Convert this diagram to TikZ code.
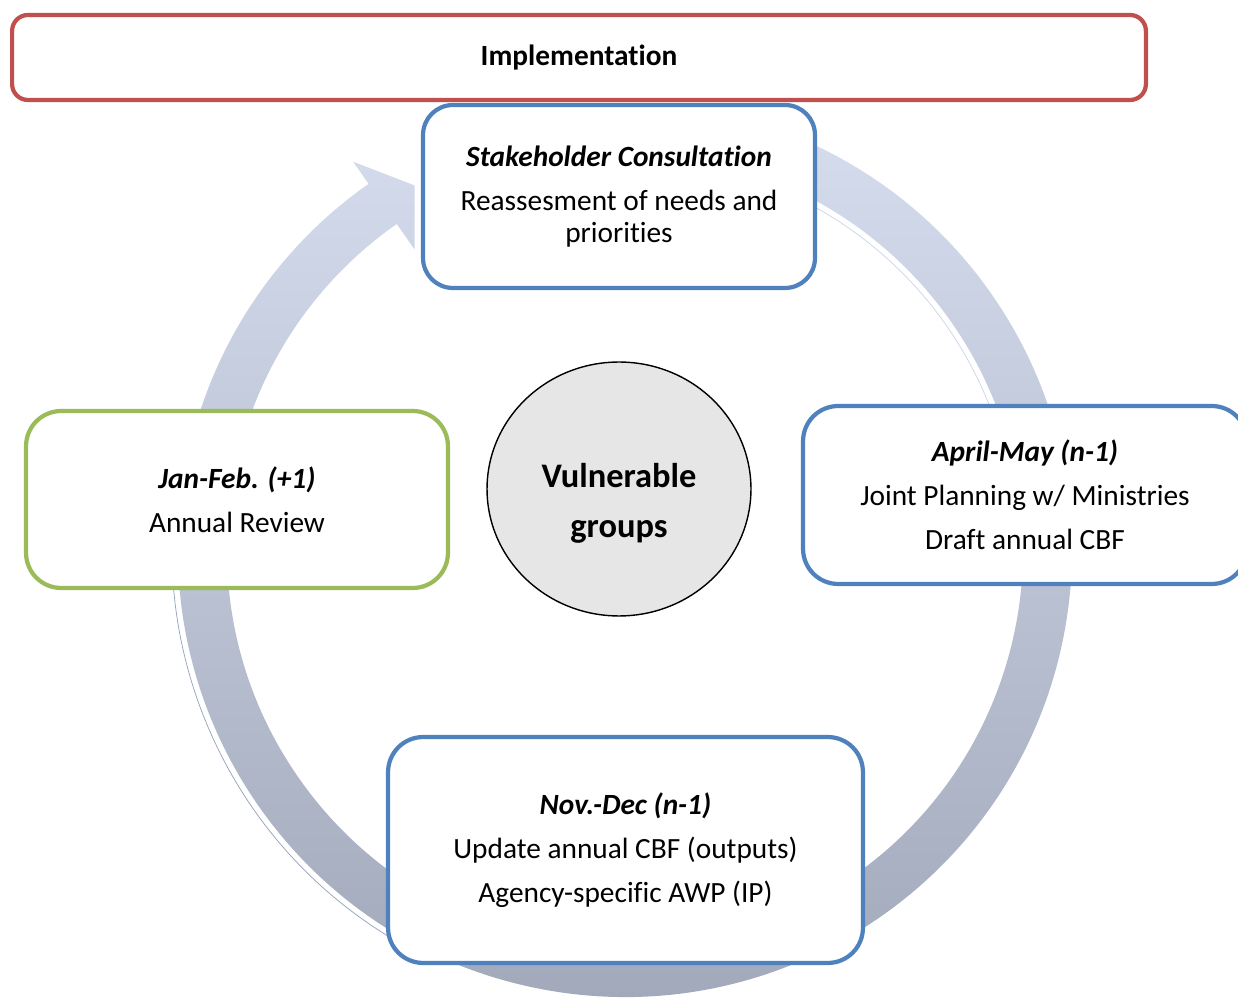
\documentclass[tikz,border=0pt]{standalone}
\usepackage{fontspec}
\setmainfont{Carlito}[Ligatures=NoCommon]
\usetikzlibrary{shapes.geometric}

\definecolor{planblue}{RGB}{79,129,189}
\definecolor{planred}{RGB}{192,80,77}
\definecolor{plangreen}{RGB}{155,187,89}
\definecolor{arctop}{RGB}{214,221,238}
\definecolor{arcbot}{RGB}{160,167,185}
\definecolor{hubgray}{RGB}{230,230,230}

\tikzset{
  phase/.style={draw=planblue, line width=2.4pt, fill=white, rounded corners=20pt,
    align=center, font=\fontsize{16.7}{25}\selectfont},
  hub/.style={ellipse, draw=black, line width=0.8pt, fill=hubgray},
  hubtext/.style={align=center, font=\bfseries\fontsize{19.6}{28.5}\selectfont}
}

\begin{document}
\begin{tikzpicture}[x=0.02cm, y=-0.02cm]
    \useasboundingbox (0,0) rectangle (1238,999);

    % cycle arrow behind the boxes
    \begin{scope}[shift={(625,550)}]
        \shade[top color=arctop, bottom color=arcbot]
            (-80:447) arc[start angle=-80, end angle=235, radius=447]
            -- (235:474) -- (240:421) -- (235:367) -- (235:398)
            arc[start angle=235, end angle=-80, radius=398] -- cycle;
        \draw[arctop!90!planblue, line width=0.4pt]
            (-80:392) arc[start angle=-80, end angle=-15, radius=392];
        \draw[arcbot!80!planblue, line width=0.4pt]
            (115:453) arc[start angle=115, end angle=190, radius=453];
    \end{scope}

    \node[phase, draw=planred, rounded corners=9pt, minimum width=22.68cm, minimum height=1.7cm] (impl) at (579,57.5) {\textbf{Implementation}};
    \node[phase, rounded corners=17pt, minimum width=7.84cm, minimum height=3.66cm] (stake) at (619,196.5)
        {\textbf{\textit{Stakeholder Consultation}}\\Reassesment of needs and\\[-7pt]priorities};
    \node[phase, minimum width=8.88cm, minimum height=3.56cm] (april) at (1025,495)
        {\textbf{\textit{April-May (n-1)}}\\Joint Planning w/ Ministries\\Draft annual CBF};
    \node[phase, minimum width=9.5cm, minimum height=4.52cm] (nov) at (625.5,850)
        {\textbf{\textit{Nov.-Dec (n-1)}}\\Update annual CBF (outputs)\\Agency-specific AWP (IP)};
    \node[phase, draw=plangreen, minimum width=8.44cm, minimum height=3.54cm] (jan) at (237,499.5)
        {\textbf{\textit{Jan-Feb. (+1)}}\\Annual Review};
    \node[hub, minimum width=5.28cm, minimum height=5.08cm] (vuln) at (619,489) {};
    \node[hubtext] (vulnlabel) at ([yshift=-8pt]vuln.center) {Vulnerable\\groups};
\end{tikzpicture}
\end{document}
